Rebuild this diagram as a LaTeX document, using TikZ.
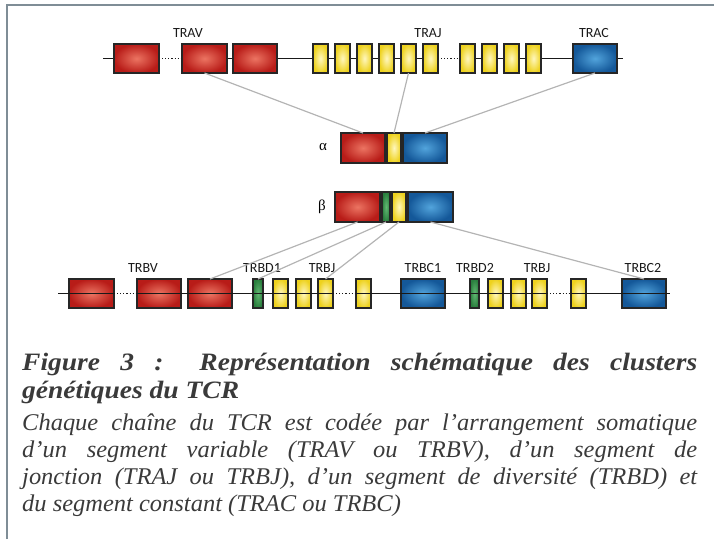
\documentclass[tikz,border=0pt]{standalone}
\usepackage{fontspec}
\setmainfont{Liberation Serif}
\newfontfamily\labelfont{Carlito}
\newfontfamily\capfont[FakeStretch=1.1]{Liberation Serif}
\newfontfamily\bodyfont[FakeStretch=1.02]{Liberation Serif}
\newfontfamily\greekfont{Liberation Serif}
\definecolor{redin}{HTML}{EC7462}
\definecolor{redout}{HTML}{B81C18}
\definecolor{yelin}{HTML}{FFF7BE}
\definecolor{yelout}{HTML}{EED21E}
\definecolor{bluin}{HTML}{52A4DC}
\definecolor{bluout}{HTML}{145899}
\definecolor{grnin}{HTML}{62B873}
\definecolor{grnout}{HTML}{2A7F3E}
\definecolor{connc}{HTML}{B4B4B4}
\definecolor{framec}{HTML}{7F8D96}
\definecolor{captext}{HTML}{3A3A3A}
\newcommand{\capline}[1]{\makebox[675pt][s]{#1}}
\pgfdeclarelayer{background}
\pgfsetlayers{background,main}
\tikzset{
  gbox/.style={draw=black!85, line width=1.3pt, inner sep=0pt, outer sep=0pt},
  redb/.style={gbox, inner color=redin, outer color=redout, minimum width=45pt, minimum height=29pt},
  yelb/.style={gbox, inner color=yelin, outer color=yelout, minimum width=15pt, minimum height=29pt},
  blub/.style={gbox, inner color=bluin, outer color=bluout, minimum width=44pt, minimum height=29pt},
  grnb/.style={gbox, inner color=grnin, outer color=grnout, minimum width=9pt, minimum height=29pt},
  conn/.style={draw=connc, line width=1.2pt},
  backbone/.style={draw=black!90, line width=1.1pt},
  dotline/.style={draw=black!90, line width=1.1pt, dotted},
  lbl/.style={font=\labelfont\fontsize{14}{14}\selectfont, inner sep=0pt, text=black!90},
  glbl/.style={font=\greekfont\fontsize{15}{15}\selectfont, inner sep=0pt},
  captxt/.style={anchor=base west, inner sep=0pt, text=captext}
}
\begin{document}
\begin{tikzpicture}[x=1pt,y=-1pt]
\useasboundingbox (0,0) rectangle (714,539);
\draw[framec, line width=2pt] (7,539) -- (7,5) -- (714,5);

% ---------- top row (alpha locus)
\node[redb] (a1) at (136.5,58.5) {};
\node[redb] (a2) at (204.5,58.5) {};
\node[redb, minimum width=44pt] (a3) at (255,58.5) {};
\node[yelb] (y1) at (320.5,58.5) {};
\node[yelb] (y2) at (342.5,58.5) {};
\node[yelb] (y3) at (364.5,58.5) {};
\node[yelb] (y4) at (386.5,58.5) {};
\node[yelb] (y5) at (408.5,58.5) {};
\node[yelb] (y6) at (430.5,58.5) {};
\node[yelb] (y7) at (467.5,58.5) {};
\node[yelb] (y8) at (489.5,58.5) {};
\node[yelb] (y9) at (511.5,58.5) {};
\node[yelb] (y10) at (533.5,58.5) {};
\node[blub] (ac) at (595,58.5) {};
\coordinate (tl) at (103,58.5);
\coordinate (tr) at (623,58.5);
\begin{pgfonlayer}{background}
\draw[backbone] (tl) -- (a1.center);
\draw[dotline] (a1.east) -- (a2.west);
\draw[backbone] (a2.center) -- (y6.center);
\draw[dotline] (y6.east) -- (y7.west);
\draw[backbone] (y7.center) -- (tr);
\end{pgfonlayer}
\node[lbl] (lTRAV) at (188,33) {TRAV};
\node[lbl] (lTRAJ) at (428,33) {TRAJ};
\node[lbl] (lTRAC) at (594,33) {TRAC};

% ---------- alpha chain
\node[redb, minimum width=44pt, minimum height=30pt] (ar) at (363,148) {};
\node[yelb, minimum width=14pt, minimum height=30pt] (ay) at (394,148) {};
\node[blub, minimum height=30pt] (ab) at (425,148) {};
\node[glbl] (alpha) at (323,147) {α};

% ---------- beta chain
\node[redb, minimum height=30pt] (bR) at (357.5,207) {};
\node[grnb, minimum width=8pt, minimum height=30pt] (bG) at (386,207) {};
\node[yelb, minimum width=14pt, minimum height=30pt] (bY) at (399,207) {};
\node[blub, minimum width=45pt, minimum height=30pt] (bB) at (430.5,207) {};
\node[glbl] (beta) at (322,207) {β};

% ---------- bottom row (beta locus)
\node[redb] (r1) at (91.5,293.5) {};
\node[redb, minimum width=44pt] (r2) at (159,293.5) {};
\node[redb, minimum width=44pt] (r3) at (210,293.5) {};
\node[grnb, minimum width=10pt] (d1) at (258,293.5) {};
\node[yelb] (j1) at (280.5,293.5) {};
\node[yelb] (j2) at (303.5,293.5) {};
\node[yelb] (j3) at (325.5,293.5) {};
\node[yelb] (j4) at (363.5,293.5) {};
\node[blub] (c1) at (423,293.5) {};
\node[grnb] (d2) at (474.5,293.5) {};
\node[yelb] (k1) at (495.5,293.5) {};
\node[yelb] (k2) at (518.5,293.5) {};
\node[yelb] (k3) at (539.5,293.5) {};
\node[yelb] (k4) at (578.5,293.5) {};
\node[blub] (c2) at (644,293.5) {};
\coordinate (bl) at (58,293.5);
\coordinate (brr) at (670,293.5);
\draw[backbone] (bl) -- (r1.east);
\draw[dotline] (r1.east) -- (r2.west);
\draw[backbone] (r2.west) -- (j3.east);
\draw[dotline] (j3.east) -- (j4.west);
\draw[backbone] (j4.west) -- (k3.east);
\draw[dotline] (k3.east) -- (k4.west);
\draw[backbone] (k4.west) -- (brr);
\node[lbl] (lTRBV) at (143,268) {TRBV};
\node[lbl] (lTRBD1) at (262,268) {TRBD1};
\node[lbl] (lTRBJa) at (322,268) {TRBJ};
\node[lbl] (lTRBC1) at (423,268) {TRBC1};
\node[lbl] (lTRBD2) at (475,268) {TRBD2};
\node[lbl] (lTRBJb) at (537,268) {TRBJ};
\node[lbl] (lTRBC2) at (643,268) {TRBC2};

% ---------- connectors
\draw[conn] (a2.south) -- (ar.north);
\draw[conn] (y5.south) -- (ay.north);
\draw[conn] (ac.south) -- (ab.north);
\draw[conn] (bR.south) -- (r3.north);
\draw[conn] (bG.south) -- (d1.north);
\draw[conn] (bY.south) -- (j3.north);
\draw[conn] (bB.south) -- (c2.north);

% ---------- caption
\node[captxt] (cap1) at (22,370) {\capfont\bfseries\itshape\fontsize{25}{25}\selectfont\capline{Figure 3 : Représentation schématique des clusters}};
\node[captxt] (cap2) at (22,398) {\capfont\bfseries\itshape\fontsize{25}{25}\selectfont génétiques du TCR};
\node[captxt] (cap3) at (22,430) {\bodyfont\itshape\fontsize{24}{24}\selectfont\capline{Chaque chaîne du TCR est codée par l’arrangement somatique}};
\node[captxt] (cap4) at (22,457) {\bodyfont\itshape\fontsize{24}{24}\selectfont\capline{d’un segment variable (TRAV ou TRBV), d’un segment de}};
\node[captxt] (cap5) at (22,484) {\bodyfont\itshape\fontsize{24}{24}\selectfont\capline{jonction (TRAJ ou TRBJ), d’un segment de diversité (TRBD) et}};
\node[captxt] (cap6) at (22,511) {\bodyfont\itshape\fontsize{24}{24}\selectfont du segment constant (TRAC ou TRBC)};
\end{tikzpicture}
\end{document}
